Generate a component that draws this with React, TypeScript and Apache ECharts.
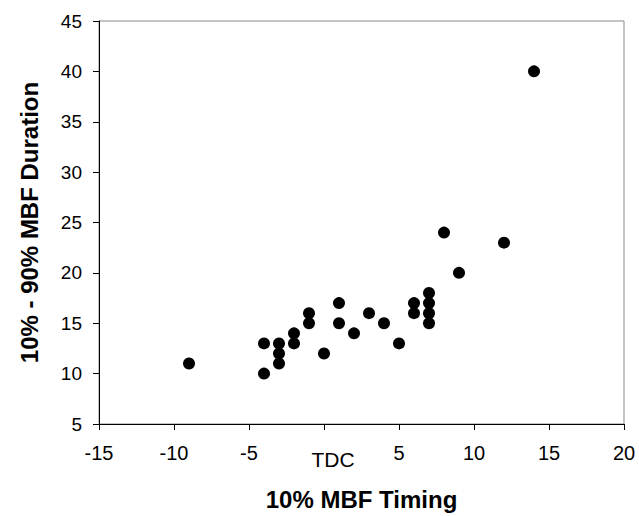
import React, { useEffect, useRef } from "react";
import * as echarts from "echarts";

const timing = [-9, -4, -4, -3, -3, -3, -2, -2, -1, -1, 0, 1, 1, 2, 3, 4, 5, 6, 6, 7, 7, 7, 7, 8, 9, 12, 14];
const duration = [11, 13, 10, 13, 12, 11, 14, 13, 16, 15, 12, 17, 15, 14, 16, 15, 13, 17, 16, 18, 17, 16, 15, 24, 20, 23, 40];
const xTicks = [-15, -10, -5, 0, 5, 10, 15, 20];
const yTicks = [5, 10, 15, 20, 25, 30, 35, 40, 45];

export default function App() {
  const ref = useRef<HTMLDivElement>(null);
  useEffect(() => {
    const chart = echarts.init(ref.current!, null, { renderer: "svg" });
    const font = "Liberation Sans, Arial, sans-serif";
    chart.setOption({
      animation: false,
      backgroundColor: "#fff",
      grid: { left: 99, right: 15, top: 21, bottom: 87, show: true, borderColor: "#888", borderWidth: 1 },
      xAxis: {
        type: "value",
        min: xTicks[0],
        max: xTicks[xTicks.length - 1],
        interval: 5,
        name: "10% MBF Timing",
        nameLocation: "middle",
        nameGap: 63,
        nameTextStyle: { fontFamily: font, fontSize: 24, fontWeight: "bold", color: "#000" },
        axisLine: { onZero: false, lineStyle: { color: "#000", width: 1 } },
        axisTick: { inside: false, length: 6, lineStyle: { color: "#000" } },
        axisLabel: {
          margin: 19,
          fontFamily: font,
          fontSize: 20,
          color: "#000",
          hideOverlap: false,
          formatter: (v: number) => (v === 0 ? "{t|TDC}" : String(v)),
          rich: { t: { fontFamily: font, fontSize: 21, color: "#000", padding: [6, 0, 0, 18] } },
        },
        splitLine: { show: false },
      },
      yAxis: {
        type: "value",
        min: yTicks[0],
        max: yTicks[yTicks.length - 1],
        interval: 5,
        name: "10% - 90% MBF Duration",
        nameLocation: "middle",
        nameGap: 58,
        nameTextStyle: { fontFamily: font, fontSize: 24, fontWeight: "bold", color: "#000" },
        axisLine: { show: true, onZero: false, lineStyle: { color: "#000", width: 1 } },
        axisTick: { show: true, inside: false, length: 6, lineStyle: { color: "#000" } },
        axisLabel: { margin: 17, fontFamily: font, fontSize: 19, color: "#000" },
        splitLine: { show: false },
      },
      series: [
        {
          type: "scatter",
          symbol: "circle",
          symbolSize: 12,
          itemStyle: { color: "#000", opacity: 1 },
          data: timing.map((t, i) => [t, duration[i]]),
        },
      ],
    });
    return () => chart.dispose();
  }, []);
  return <div ref={ref} style={{ position: "absolute", left: 0, top: 0, width: 639, height: 516 }} />;
}
